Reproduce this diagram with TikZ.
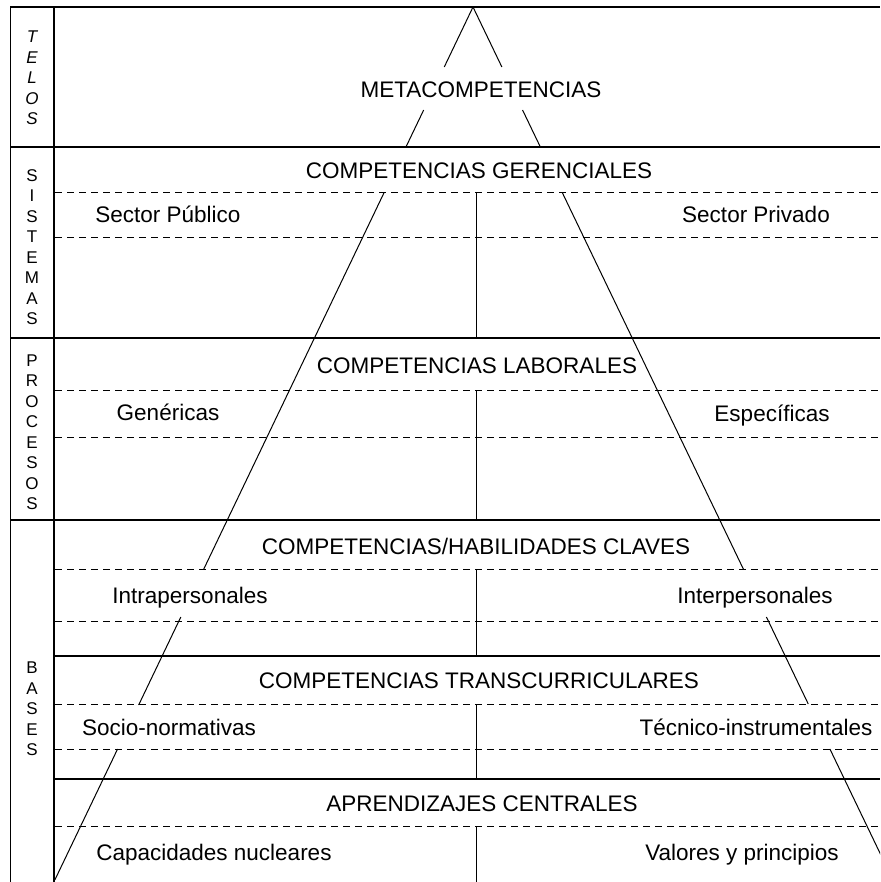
\documentclass[tikz,border=0pt]{standalone}
\usepackage{fontspec}
\setmainfont{Liberation Sans}
\usepackage{tikz}

\begin{document}
\begin{tikzpicture}[line cap=butt,line join=round,x=1pt,y=-1pt,
	texto/.style={anchor=base,inner sep=0pt,font=\fontsize{22.5}{27}\selectfont},
	lado/.style={align=center,inner sep=0pt,font=\fontsize{17}{20.5}\selectfont},
	raya/.style={line width=1pt,dash pattern=on 7pt off 5pt},
	corte/.style={line width=1.5pt},
	piram/.style={line width=1pt}]
	\useasboundingbox (0,0) rectangle (880,882);
	\clip (0,0) rectangle (880,882);
	% marco
	\draw [line width=0.6pt,double,double distance=0.9pt] (11,7)-- (11,882);
	\draw [line width=2pt] (54,7)-- (54,882);
	\draw [line width=2pt] (10,7)-- (880,7);
	\draw [corte] (10,147)-- (880,147);
	\draw [corte] (10,338)-- (880,338);
	\draw [corte] (10,520)-- (880,520);
	\draw [corte] (54,656)-- (880,656);
	\draw [corte] (54,779)-- (880,779);
	% lineas discontinuas
	\draw [raya] (55,193)-- (880,193);
	\draw [raya] (55,238)-- (880,238);
	\draw [raya] (55,390)-- (880,390);
	\draw [raya] (55,437)-- (880,437);
	\draw [raya] (55,569)-- (880,569);
	\draw [raya] (55,621)-- (880,621);
	\draw [raya] (55,704)-- (880,704);
	\draw [raya] (55,749)-- (880,749);
	\draw [raya] (55,826)-- (880,826);
	% division central
	\draw [piram] (476,193)-- (476,338);
	\draw [piram] (476,390)-- (476,520);
	\draw [piram] (476,569)-- (476,656);
	\draw [piram] (476,704)-- (476,779);
	\draw [piram] (476,826)-- (476,882);
	% piramide
	\coordinate (apex) at (473,7);
	\draw [piram] (apex)-- ({473-0.479*60},67);
	\draw [piram] ({473-0.479*103},110)-- ({473-0.479*140},147);
	\draw [piram] ({473-0.479*186},193)-- ({473-0.479*562},569);
	\draw [piram] ({473-0.479*610},617)-- ({473-0.479*698},705);
	\draw [piram] ({473-0.479*742},749)-- ({473-0.479*873},880);
	\draw [piram] (apex)-- ({473+0.481*60},67);
	\draw [piram] ({473+0.481*103},110)-- ({473+0.481*140},147);
	\draw [piram] ({473+0.481*186},193)-- ({473+0.481*562},569);
	\draw [piram] ({473+0.481*610},617)-- ({473+0.481*697},704);
	\draw [piram] ({473+0.481*742},749)-- ({473+0.481*875},882);
	% columna izquierda
	\node [lado,font=\fontsize{17}{20.5}\selectfont\itshape] (telos) at (32,78) {T\\E\\L\\O\\S};
	\node [lado] (sistemas) at (32,247) {S\\I\\S\\T\\E\\M\\A\\S};
	\node [lado] (procesos) at (32,432) {P\\R\\O\\C\\E\\S\\O\\S};
	\node [lado] (bases) at (32,709) {B\\A\\S\\E\\S};
	% textos
	\node [texto] (meta) at (481,98) {METACOMPETENCIAS};
	\node [texto] (gerenciales) at (479,179) {COMPETENCIAS GERENCIALES};
	\node [texto] (publico) at (168,223) {Sector Público};
	\node [texto] (privado) at (756,223) {Sector Privado};
	\node [texto] (laborales) at (477,373) {COMPETENCIAS LABORALES};
	\node [texto] (genericas) at (168,420) {Genéricas};
	\node [texto] (especificas) at (772,421) {Específicas};
	\node [texto] (claves) at (476,554) {COMPETENCIAS/HABILIDADES CLAVES};
	\node [texto] (intra) at (190,603) {Intrapersonales};
	\node [texto] (inter) at (755,603) {Interpersonales};
	\node [texto] (transc) at (479,688) {COMPETENCIAS TRANSCURRICULARES};
	\node [texto] (socio) at (169,735) {Socio-normativas};
	\node [texto] (tecnico) at (756,735) {Técnico-instrumentales};
	\node [texto] (aprend) at (482,811) {APRENDIZAJES CENTRALES};
	\node [texto] (capac) at (214,860) {Capacidades nucleares};
	\node [texto] (valores) at (742,860) {Valores y principios};
\end{tikzpicture}
\end{document}
